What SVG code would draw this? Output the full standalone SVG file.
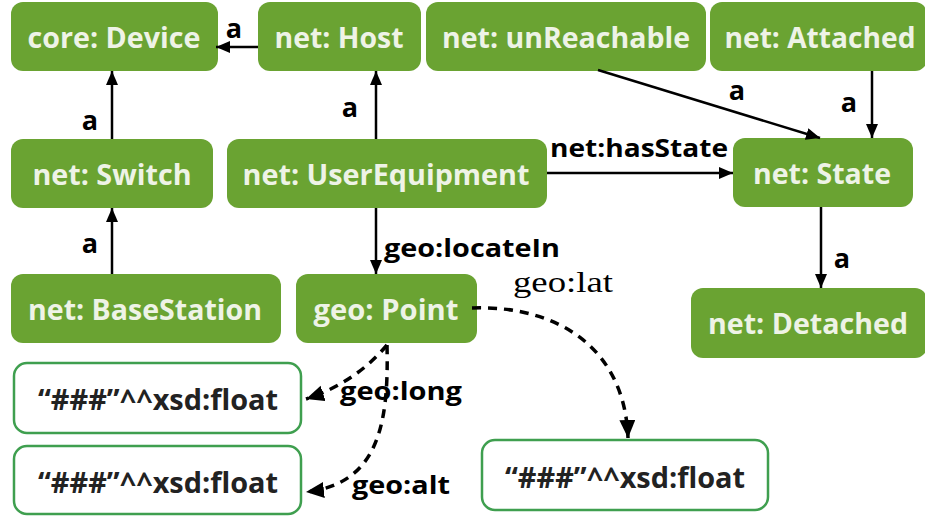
<svg xmlns="http://www.w3.org/2000/svg" width="925" height="516" viewBox="0 0 925 516">
<style>
.n rect{fill:#6aa332;}
.n text{fill:#eef3e6;font-family:"Open Sans","Noto Sans",sans-serif;font-weight:700;font-size:29px;text-anchor:middle;}
.f rect{fill:#ffffff;stroke:#3f9f4f;stroke-width:2.5;}
.f text{fill:#222;font-family:"Open Sans","Noto Sans",sans-serif;font-weight:700;font-size:28px;}
.e{stroke:#000;stroke-width:2.5;fill:none;}
.d{stroke:#000;stroke-width:3.5;fill:none;stroke-dasharray:9 7;}
.l{fill:#000;font-family:"Open Sans","Noto Sans",sans-serif;font-weight:700;font-size:25px;}
.la{fill:#000;font-family:"Open Sans","Noto Sans",sans-serif;font-weight:700;font-size:27px;text-anchor:middle;}
.ls{fill:#000;font-family:"Liberation Serif","DejaVu Serif",serif;font-size:30px;}
</style>
<defs>
<marker id="ah" markerUnits="userSpaceOnUse" markerWidth="16" markerHeight="14" refX="14" refY="6" orient="auto">
<path d="M0,0 L14,6 L0,12 Z" fill="#000"/>
</marker>
<marker id="ahd" markerUnits="userSpaceOnUse" markerWidth="20" markerHeight="18" refX="18" refY="8" orient="auto">
<path d="M0,0 L18,8 L0,16 Z" fill="#000"/>
</marker>
</defs>

<g id="device" class="n"><rect x="11" y="2" width="207" height="69" rx="12"/><text x="114" y="48" textLength="173" lengthAdjust="spacingAndGlyphs">core: Device</text></g>
<g id="host" class="n"><rect x="258" y="2" width="163" height="69" rx="12"/><text x="339" y="48" textLength="129" lengthAdjust="spacingAndGlyphs">net: Host</text></g>
<g id="unreachable" class="n"><rect x="426" y="2" width="280" height="69" rx="12"/><text x="566" y="48" textLength="248" lengthAdjust="spacingAndGlyphs">net: unReachable</text></g>
<g id="attached" class="n"><rect x="710" y="2" width="217" height="69" rx="12"/><text x="820" y="48" textLength="191" lengthAdjust="spacingAndGlyphs">net: Attached</text></g>
<g id="switch" class="n"><rect x="11" y="139" width="202" height="69" rx="12"/><text x="112" y="185" textLength="159" lengthAdjust="spacingAndGlyphs">net: Switch</text></g>
<g id="userequipment" class="n"><rect x="227" y="139" width="320" height="69" rx="12"/><text x="386" y="185" textLength="287" lengthAdjust="spacingAndGlyphs">net: UserEquipment</text></g>
<g id="state" class="n"><rect x="733" y="138" width="180" height="69" rx="12"/><text x="822" y="184" textLength="138" lengthAdjust="spacingAndGlyphs">net: State</text></g>
<g id="basestation" class="n"><rect x="11" y="274" width="270" height="69" rx="12"/><text x="145" y="320" textLength="234" lengthAdjust="spacingAndGlyphs">net: BaseStation</text></g>
<g id="point" class="n"><rect x="296" y="274" width="181" height="69" rx="12"/><text x="386" y="320" textLength="145" lengthAdjust="spacingAndGlyphs">geo: Point</text></g>
<g id="detached" class="n"><rect x="691" y="288" width="236" height="70" rx="12"/><text x="808" y="334" textLength="200" lengthAdjust="spacingAndGlyphs">net: Detached</text></g>

<g id="float1" class="f"><rect x="14" y="363" width="287" height="70" rx="13"/><text x="38" y="410" textLength="240" lengthAdjust="spacingAndGlyphs">“###”^^xsd:float</text></g>
<g id="float2" class="f"><rect x="14" y="446" width="287" height="68" rx="13"/><text x="38" y="493" textLength="240" lengthAdjust="spacingAndGlyphs">“###”^^xsd:float</text></g>
<g id="float3" class="f"><rect x="482" y="440" width="286" height="70" rx="13"/><text x="505" y="488" textLength="240" lengthAdjust="spacingAndGlyphs">“###”^^xsd:float</text></g>

<g id="connectors">
<path class="e" d="M258 47 L216 47" marker-end="url(#ah)"/>
<path class="e" d="M112 139 L112 71" marker-end="url(#ah)"/>
<path class="e" d="M376 139 L376 71" marker-end="url(#ah)"/>
<path class="e" d="M598 70 L820 138" marker-end="url(#ah)"/>
<path class="e" d="M872 71 L872 138" marker-end="url(#ah)"/>
<path class="e" d="M547 173 L733 173" marker-end="url(#ah)"/>
<path class="e" d="M821 207 L821 288" marker-end="url(#ah)"/>
<path class="e" d="M112 274 L112 208" marker-end="url(#ah)"/>
<path class="e" d="M376 208 L376 274" marker-end="url(#ah)"/>
<path class="d" d="M472 308 C560 305 625 350 628 438" marker-end="url(#ahd)"/>
<path class="d" d="M387 345 Q355 383 306 399" marker-end="url(#ahd)"/>
<path class="d" d="M387 345 C389 425 378 484 306 492" marker-end="url(#ahd)"/>

<text class="la" x="234" y="38">a</text>
<text class="la" x="90" y="130">a</text>
<text class="la" x="350" y="117">a</text>
<text class="la" x="737" y="100">a</text>
<text class="la" x="849" y="112">a</text>
<text class="la" x="842" y="268">a</text>
<text class="la" x="90" y="253">a</text>
<text class="l" x="550" y="157" textLength="178" lengthAdjust="spacingAndGlyphs">net:hasState</text>
<text class="l" x="384" y="257" textLength="176" lengthAdjust="spacingAndGlyphs">geo:locateIn</text>
<text class="ls" x="513" y="292" textLength="100" lengthAdjust="spacingAndGlyphs">geo:lat</text>
<text class="l" x="340" y="400" textLength="122" lengthAdjust="spacingAndGlyphs">geo:long</text>
<text class="l" x="352" y="494" textLength="98" lengthAdjust="spacingAndGlyphs">geo:alt</text>
</g>
</svg>
